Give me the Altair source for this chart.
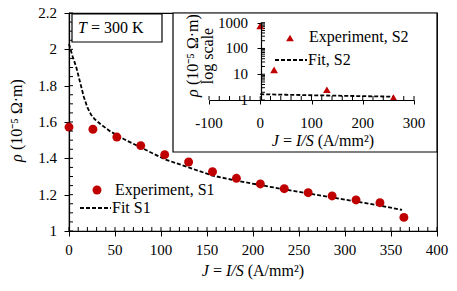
import altair as alt
import pandas as pd

# ---- data ----
s1_J = [0, 26, 52, 78, 104, 130, 156, 182, 208, 234, 260, 286, 312, 338, 364]
s1_rho = [1.572, 1.56, 1.517, 1.47, 1.42, 1.38, 1.326, 1.29, 1.259, 1.233, 1.211, 1.193, 1.171, 1.156, 1.075]

fit1_J = [0, 4, 8, 12, 16, 20, 24, 28, 35, 45, 60, 78, 104, 130, 156, 182, 208, 234, 260, 286, 312, 338, 362]
fit1_rho = [2.03, 1.96, 1.9, 1.82, 1.74, 1.68, 1.64, 1.615, 1.585, 1.548, 1.505, 1.46, 1.395, 1.35, 1.305,
            1.277, 1.253, 1.229, 1.207, 1.185, 1.162, 1.14, 1.116]

s2_J = [0, 27, 130, 260]
s2_rho = [760, 14.7, 2.5, 1.23]

fit2_J = [0, 50, 100, 150, 200, 260]
fit2_rho = [1.68, 1.6, 1.53, 1.47, 1.41, 1.35]

main_x_ticks = [0, 50, 100, 150, 200, 250, 300, 350, 400]
main_x_labels = ["0", "50", "100", "150", "200", "250", "300", "350", "400"]
main_y_ticks = [1, 1.2, 1.4, 1.6, 1.8, 2, 2.2]
main_y_labels = ["1", "1.2", "1.4", "1.6", "1.8", "2", "2.2"]
main_x_minor = list(range(0, 401, 10))
main_y_minor = [round(1 + 0.05 * i, 2) for i in range(25)]
inset_x_ticks = [-100, 0, 100, 200, 300]
inset_x_labels = ["-100", "0", "100", "200", "300"]
inset_y_ticks = [1, 10, 100, 1000]
inset_y_labels = ["1", "10", "100", "1000"]
inset_x_minor = list(range(-100, 301, 20))
inset_y_minor = [m * 10 ** k for k in range(3) for m in range(1, 10)] + [1000]

RED = "#C00000"
FONT = "Times New Roman"
LFS = 15   # tick label size
TFS = 16   # title / legend size

W, H = 368, 218

s1 = pd.DataFrame({"J": s1_J, "rho": s1_rho})
f1 = pd.DataFrame({"J": fit1_J, "rho": fit1_rho})
s2 = pd.DataFrame({"J": s2_J, "rho": s2_rho})
f2 = pd.DataFrame({"J": fit2_J, "rho": fit2_rho})


def txt(text, x, y, size=TFS, italic=False, align="left", angle=0):
    kw = dict(text=text, font=FONT, fontSize=size, align=align, baseline="middle", color="black")
    if italic:
        kw["fontStyle"] = "italic"
    if angle:
        kw["angle"] = angle
    return alt.Chart(pd.DataFrame({"a": [0]})).mark_text(**kw).encode(x=alt.value(x), y=alt.value(y))


# ---- main chart ----
mx = alt.Scale(domain=[0, 400], nice=False)
my = alt.Scale(domain=[1, 2.2], nice=False)

xaxis = alt.Axis(values=main_x_ticks, tickSize=5, grid=False, labels=False, title=None)
yaxis = alt.Axis(values=main_y_ticks, tickSize=5, grid=False, labels=False, title=None)

fit1 = alt.Chart(f1).mark_line(color="black", strokeDash=[4, 2], strokeWidth=1.8).encode(
    x=alt.X("J:Q", scale=mx, axis=xaxis),
    y=alt.Y("rho:Q", scale=my, axis=yaxis),
)
pts1 = alt.Chart(s1).mark_circle(color=RED, size=80, opacity=1).encode(
    x=alt.X("J:Q", scale=mx, axis=xaxis), y=alt.Y("rho:Q", scale=my, axis=yaxis))
xminor = alt.Chart(pd.DataFrame({"J": main_x_minor})).mark_rule(color="black", strokeWidth=1).encode(
    x=alt.X("J:Q", scale=mx, axis=xaxis), y=alt.value(H), y2=alt.value(H - 4))
yminor = alt.Chart(pd.DataFrame({"rho": main_y_minor})).mark_rule(color="black", strokeWidth=1).encode(
    y=alt.Y("rho:Q", scale=my, axis=yaxis), x=alt.value(0), x2=alt.value(4))
xlab = alt.Chart(pd.DataFrame({"J": main_x_ticks, "t": main_x_labels})).mark_text(
    font=FONT, fontSize=LFS, baseline="middle", align="center", color="black").encode(
    x=alt.X("J:Q", scale=mx, axis=xaxis), y=alt.value(H + 19), text="t:N")
ylab = alt.Chart(pd.DataFrame({"rho": main_y_ticks, "t": main_y_labels})).mark_text(
    font=FONT, fontSize=LFS, baseline="middle", align="right", color="black").encode(
    y=alt.Y("rho:Q", scale=my, axis=yaxis), x=alt.value(-12), text="t:N")

main = alt.layer(fit1, pts1, xminor, yminor, xlab, ylab)

# ---- titles, boxes, legends ----
base = alt.Chart(pd.DataFrame({"a": [0]}))
tbox = base.mark_rect(fill="white", stroke="black", strokeWidth=1.2).encode(
    x=alt.value(3), x2=alt.value(93), y=alt.value(1), y2=alt.value(29))
ibox = base.mark_rect(fill="white", stroke="black", strokeWidth=1.2).encode(
    x=alt.value(104), x2=alt.value(W), y=alt.value(0), y2=alt.value(139))

leg1_pt = base.mark_circle(color=RED, size=80, opacity=1).encode(x=alt.value(28), y=alt.value(177))
leg1_ln = base.mark_rule(color="black", strokeDash=[4, 2], strokeWidth=1.8).encode(
    x=alt.value(11), x2=alt.value(42), y=alt.value(195))
leg2_pt = base.mark_point(shape="triangle-up", filled=True, color=RED, size=60, opacity=1).encode(
    x=alt.value(221), y=alt.value(25))
leg2_ln = base.mark_rule(color="black", strokeDash=[4, 2], strokeWidth=1.8).encode(
    x=alt.value(206), x2=alt.value(238), y=alt.value(47))

texts = [
    # T = 300 K
    txt("T", 9, 15, italic=True), txt("=", 22, 15), txt("300 K", 35, 15),
    # legends
    txt("Experiment, S1", 46, 177), txt("Fit S1", 43, 195),
    txt("Experiment, S2", 240, 24), txt("Fit, S2", 239, 47),
    # main x title
    txt("J", 132.8, 258, italic=True), txt("=", 143.9, 258), txt("I/S", 156.9, 258, italic=True),
    txt("(A/mm²)", 178.7, 258),
    # main y title (rotated)
    txt("ρ", -52, 149, italic=True, angle=270), txt("(10⁻⁵ Ω·m)", -52, 137, angle=270),
    # inset y title (rotated, two lines)
    txt("ρ", 124, 84, italic=True, angle=270), txt("(10⁻⁵ Ω·m)", 124, 72, angle=270),
    txt("log scale", 139, 43, align="center", angle=270),
    # inset x title
    txt("J", 202.8, 128, italic=True), txt("=", 213.9, 128), txt("I/S", 226.9, 128, italic=True),
    txt("(A/mm²)", 248.7, 128),
]

decor = alt.layer(tbox, ibox, leg1_pt, leg1_ln, leg2_pt, leg2_ln, *texts)

# ---- inset ----
ix = alt.Scale(domain=[-100, 300], range=[140, 345], nice=False)
iy = alt.Scale(type="log", domain=[1, 1000], range=[87, 9.7], nice=False)

ixaxis = alt.Axis(values=inset_x_ticks, orient="bottom", offset=-(H - 87), tickSize=4,
                  grid=False, zindex=2, labels=False, title=None)
iyaxis = alt.Axis(values=inset_y_ticks, orient="left", offset=-192, tickSize=4,
                  grid=False, zindex=2, labels=False, title=None)

fit2 = alt.Chart(f2).mark_line(color="black", strokeDash=[4, 2], strokeWidth=1.8).encode(
    x=alt.X("J:Q", scale=ix, axis=ixaxis),
    y=alt.Y("rho:Q", scale=iy, axis=iyaxis),
)
pts2 = alt.Chart(s2).mark_point(shape="triangle-up", filled=True, color=RED, size=60, opacity=1).encode(
    x=alt.X("J:Q", scale=ix, axis=ixaxis), y=alt.Y("rho:Q", scale=iy, axis=iyaxis))
ixminor = alt.Chart(pd.DataFrame({"J": inset_x_minor})).mark_rule(color="black", strokeWidth=1).encode(
    x=alt.X("J:Q", scale=ix, axis=ixaxis), y=alt.value(87), y2=alt.value(83))
iyminor = alt.Chart(pd.DataFrame({"rho": inset_y_minor})).mark_rule(color="black", strokeWidth=1).encode(
    y=alt.Y("rho:Q", scale=iy, axis=iyaxis), x=alt.value(192), x2=alt.value(196))
ixlab = alt.Chart(pd.DataFrame({"J": inset_x_ticks, "t": inset_x_labels})).mark_text(
    font=FONT, fontSize=LFS, baseline="middle", align="center", color="black").encode(
    x=alt.X("J:Q", scale=ix, axis=ixaxis), y=alt.value(109.5), text="t:N")
iylab = alt.Chart(pd.DataFrame({"rho": inset_y_ticks, "t": inset_y_labels})).mark_text(
    font=FONT, fontSize=LFS, baseline="middle", align="right", color="black").encode(
    y=alt.Y("rho:Q", scale=iy, axis=iyaxis), x=alt.value(179), text="t:N")

inset = alt.layer(fit2, ixminor, iyminor, pts2, ixlab, iylab)

chart = alt.layer(main, decor, inset).resolve_scale(x="independent", y="independent").properties(
    width=W, height=H,
    autosize=alt.AutoSizeParams(type="none"),
    padding={"left": 61, "top": 5, "right": 12, "bottom": 60},
).configure_view(stroke="black", strokeWidth=1.2).configure_axis(
    domainColor="black", tickColor="black", domainWidth=1.2,
).configure_text(font=FONT, color="black")

chart.save("out.html", embed_options={"renderer": "svg", "actions": False})
